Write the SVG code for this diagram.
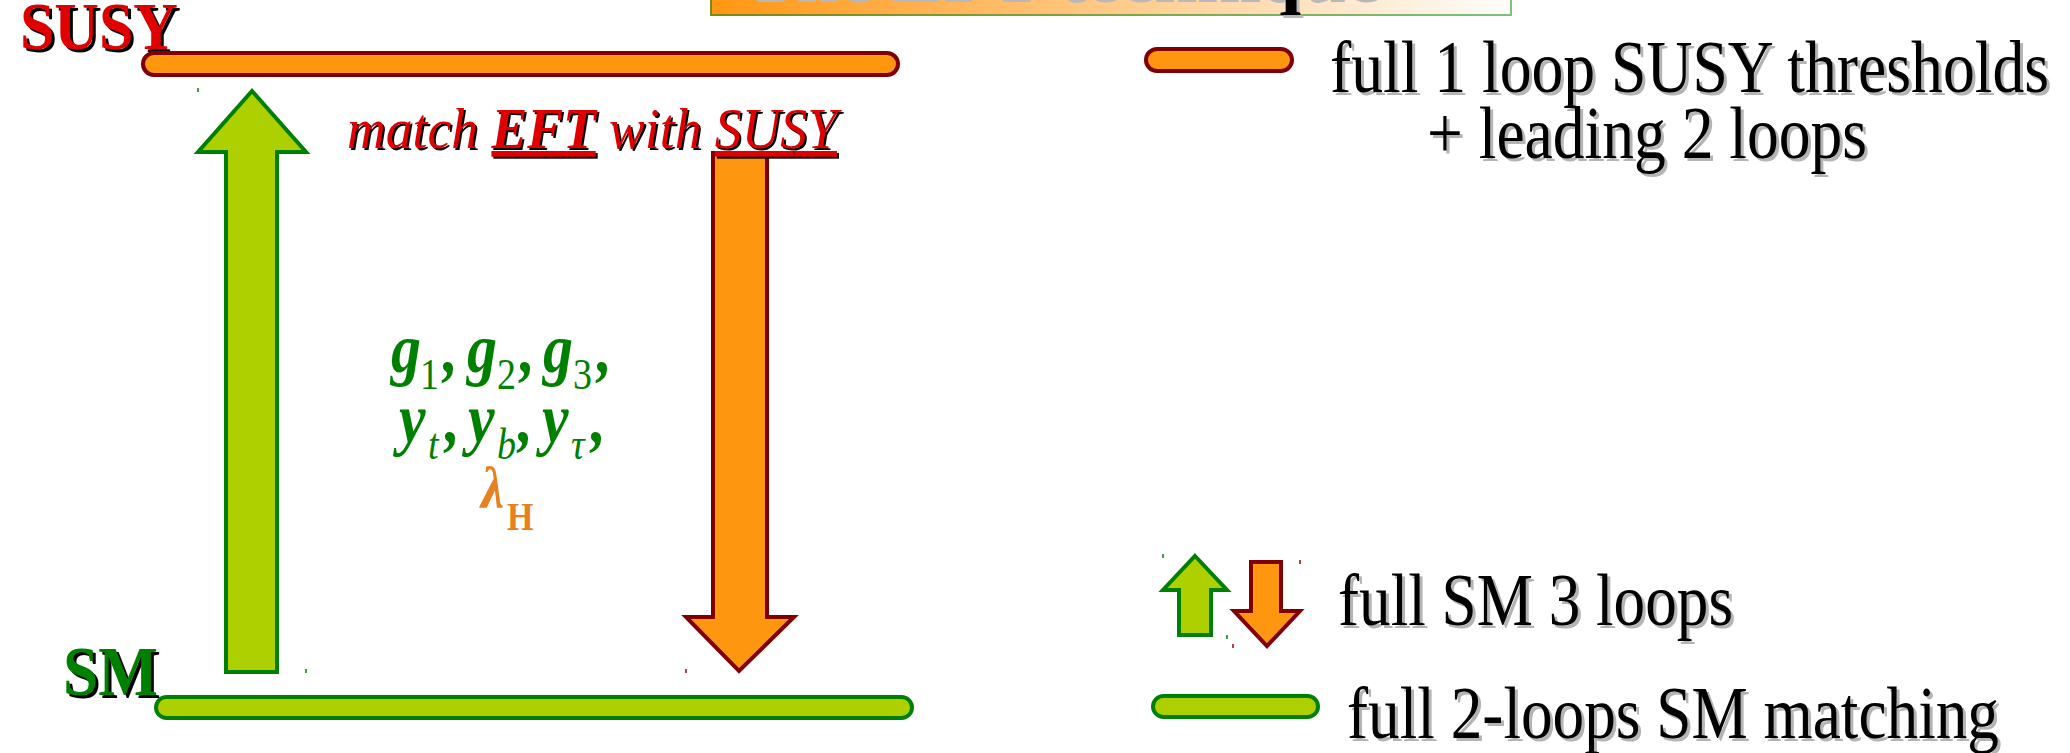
<svg xmlns="http://www.w3.org/2000/svg" xmlns:xlink="http://www.w3.org/1999/xlink" width="2070" height="753" viewBox="0 0 2070 753">
  <style>
    .serif { font-family: "Liberation Serif", "Times New Roman", serif; }
    .bar-susy { fill: #ff9610; stroke: #800000; stroke-width: 4; }
    .bar-sm { fill: #afd000; stroke: #008000; stroke-width: 4; }
    .arr-up { fill: #afd000; stroke: #008000; stroke-width: 4; stroke-linejoin: miter; }
    .arr-down { fill: #ff9610; stroke: #800000; stroke-width: 4; stroke-linejoin: miter; }
    .legend { font-size: 74px; fill: #000; }
    .legend-shadow { font-size: 74px; fill: #b4b4b4; }
    .tick-g { stroke: #008000; stroke-width: 1.5; }
    .tick-r { stroke: #a00000; stroke-width: 1.5; }
    .math { font-weight: bold; font-style: italic; fill: #008000; font-size: 60px; }
    .sub { font-weight: normal; font-size: 38px; }
  </style>
  <defs>
    <linearGradient id="titleFill" x1="0" y1="0" x2="1" y2="0">
      <stop offset="0" stop-color="#ff9612"/>
      <stop offset="0.55" stop-color="#ffcf94"/>
      <stop offset="1" stop-color="#fffdfb"/>
    </linearGradient>
    <linearGradient id="titleStroke" x1="0" y1="0" x2="1" y2="0">
      <stop offset="0" stop-color="#7a8a14"/>
      <stop offset="1" stop-color="#7cc27c"/>
    </linearGradient>
  </defs>

  <rect width="2070" height="753" fill="#ffffff"/>

  <!-- title banner, mostly above the top edge -->
  <g id="title">
    <rect x="711" y="-30" width="800" height="45" fill="url(#titleFill)" stroke="url(#titleStroke)" stroke-width="2"/>
    <text class="serif" x="1381" y="2" text-anchor="end" font-size="77" font-weight="bold" fill="#b8b8b8">The EFT technique</text>
    <text class="serif" x="1378" y="-1" text-anchor="end" font-size="77" font-weight="bold" fill="#000">The EFT technique</text>
  </g>

  <!-- scale labels -->
  <g id="label-susy" class="serif" font-weight="bold" font-size="68">
    <text x="23" y="52" fill="#000" textLength="158" lengthAdjust="spacingAndGlyphs">SUSY</text>
    <text x="20" y="49" fill="#e00000" textLength="158" lengthAdjust="spacingAndGlyphs">SUSY</text>
  </g>
  <g id="label-sm" class="serif" font-weight="bold" font-size="70">
    <text x="66" y="698" fill="#000" textLength="95" lengthAdjust="spacingAndGlyphs">SM</text>
    <text x="63" y="695" fill="#008000" textLength="95" lengthAdjust="spacingAndGlyphs">SM</text>
  </g>

  <!-- scale bars -->
  <g id="bar-susy">
    <rect class="bar-susy" x="143" y="53" width="755" height="22" rx="11"/>
  </g>
  <g id="bar-sm">
    <rect class="bar-sm" x="156" y="697" width="756" height="21" rx="10.5"/>
  </g>

  <!-- running arrows -->
  <g id="connectors">
    <polygon class="arr-up" points="252,91 306,152 277,152 277,672 226,672 226,152 198,152"/>
    <polygon class="arr-down" points="713,153 767,153 767,617 794,617 739,671 686,617 713,617"/>
  </g>

  <!-- matching label -->
  <g id="label-match" class="serif" font-size="57" font-style="italic">
    <text x="349" y="150" fill="#000" textLength="490" lengthAdjust="spacingAndGlyphs">match <tspan font-weight="bold" text-decoration="underline">EFT</tspan> with <tspan text-decoration="underline">SUSY</tspan></text>
    <text x="347" y="148" fill="#e00000" textLength="490" lengthAdjust="spacingAndGlyphs">match <tspan font-weight="bold" text-decoration="underline">EFT</tspan> with <tspan text-decoration="underline">SUSY</tspan></text>
  </g>

  <!-- couplings (glyphs drawn slightly taller than wide) -->
  <g id="couplings" class="serif">
    <g transform="translate(0,372) scale(1,1.18)">
      <text class="math" y="0">
        <tspan x="391">g</tspan><tspan class="sub" font-style="normal" x="420" y="14">1</tspan><tspan x="443" y="0">,</tspan>
        <tspan x="467">g</tspan><tspan class="sub" font-style="normal" x="497" y="14">2</tspan><tspan x="520" y="0">,</tspan>
        <tspan x="543">g</tspan><tspan class="sub" font-style="normal" x="573" y="14">3</tspan><tspan x="597" y="0">,</tspan>
      </text>
    </g>
    <g transform="translate(0,442) scale(1,1.18)">
      <text class="math" y="0">
        <tspan x="399">y</tspan><tspan class="sub" font-style="italic" x="428" y="14">t</tspan><tspan x="445" y="0">,</tspan>
        <tspan x="468">y</tspan><tspan class="sub" font-style="italic" x="497" y="14">b</tspan><tspan x="518" y="0">,</tspan>
        <tspan x="542">y</tspan><tspan class="sub" font-style="italic" x="571" y="14">τ</tspan><tspan x="591" y="0">,</tspan>
      </text>
    </g>
    <g transform="translate(0,508) scale(1,1.15)">
      <text font-weight="bold" font-style="italic" fill="#e8801e" font-size="52">
        <tspan x="481" y="0">λ</tspan><tspan x="507" y="19" font-size="34" font-style="normal">H</tspan>
      </text>
    </g>
  </g>

  <!-- legend: thresholds -->
  <g id="legend-susy">
    <rect class="bar-susy" x="1146" y="49" width="146" height="22" rx="11"/>
    <g class="serif">
      <text class="legend-shadow" x="1333" y="95" textLength="719" lengthAdjust="spacingAndGlyphs">full 1 loop SUSY thresholds</text>
      <text class="legend" x="1330" y="92" textLength="719" lengthAdjust="spacingAndGlyphs">full 1 loop SUSY thresholds</text>
      <text class="legend-shadow" x="1430" y="161" textLength="440" lengthAdjust="spacingAndGlyphs">+ leading 2 loops</text>
      <text class="legend" x="1427" y="158" textLength="440" lengthAdjust="spacingAndGlyphs">+ leading 2 loops</text>
    </g>
  </g>

  <!-- legend: running -->
  <g id="legend-running">
    <polygon class="arr-up" points="1195,556 1227,590 1211,590 1211,635 1179,635 1179,590 1163,590" stroke-width="3.5"/>
    <polygon class="arr-down" points="1251,562 1281,562 1281,611 1300,611 1267,646 1234,611 1251,611" stroke-width="3.5"/>
    <g class="serif">
      <text class="legend-shadow" x="1341" y="628" textLength="395" lengthAdjust="spacingAndGlyphs">full SM 3 loops</text>
      <text class="legend" x="1338" y="625" textLength="395" lengthAdjust="spacingAndGlyphs">full SM 3 loops</text>
    </g>
  </g>

  <!-- legend: matching -->
  <g id="legend-sm">
    <rect class="bar-sm" x="1153" y="696" width="165" height="21" rx="10.5"/>
    <g class="serif">
      <text class="legend-shadow" x="1350" y="741" textLength="652" lengthAdjust="spacingAndGlyphs">full 2-loops SM matching</text>
      <text class="legend" x="1347" y="738" textLength="652" lengthAdjust="spacingAndGlyphs">full 2-loops SM matching</text>
    </g>
  </g>

  <!-- small corner marks -->
  <g id="marks">
    <line class="tick-g" x1="198" y1="88" x2="198" y2="92"/>
    <line class="tick-g" x1="306" y1="669" x2="306" y2="673"/>
    <line class="tick-r" x1="794" y1="151" x2="794" y2="155"/>
    <line class="tick-r" x1="686" y1="669" x2="686" y2="673"/>
    <line class="tick-g" x1="1163" y1="554" x2="1163" y2="558"/>
    <line class="tick-g" x1="1227" y1="635" x2="1227" y2="639"/>
    <line class="tick-r" x1="1233" y1="644" x2="1233" y2="648"/>
    <line class="tick-r" x1="1300" y1="560" x2="1300" y2="564"/>
  </g>
</svg>
